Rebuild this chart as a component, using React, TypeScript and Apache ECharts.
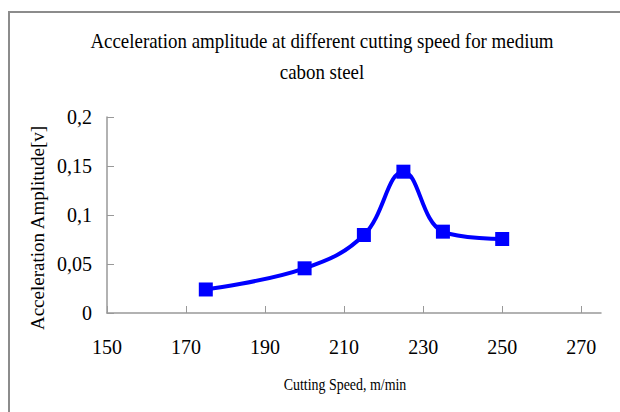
import React, { useEffect, useRef } from "react";
import * as echarts from "echarts";

const titleText = "Acceleration amplitude at different cutting speed for medium\ncabon steel";
const xAxisTitle = "Cutting Speed, m/min";
const yAxisTitle = "Acceleration Amplitude[v]";
const cuttingSpeed = [175, 200, 215, 225, 235, 250];
const amplitude = [0.024, 0.0456, 0.0796, 0.1442, 0.083, 0.0755];
const xTickValues = [150, 170, 190, 210, 230, 250, 270];

const FONT = "'Liberation Serif', 'Times New Roman', serif";

export default function App() {
  const ref = useRef<HTMLDivElement>(null);
  useEffect(() => {
    document.body.style.margin = "0";
    const chart = echarts.init(ref.current!, null, { renderer: "svg" });
    chart.setOption({
      animation: false,
      backgroundColor: "#ffffff",
      grid: { left: 107, right: 19, top: 117, bottom: 99, containLabel: false },
      xAxis: {
        type: "value",
        min: 150,
        max: 275,
        interval: 5,
        axisLine: { show: true, lineStyle: { color: "#999999", width: 1.5 } },
        axisTick: {
          show: true,
          inside: true,
          length: 7,
          customValues: xTickValues,
          lineStyle: { color: "#999999", width: 1 },
        },
        axisLabel: {
          customValues: xTickValues,
          margin: 24,
          fontFamily: FONT,
          fontSize: 20,
          color: "#000",
        },
        splitLine: { show: false },
      },
      yAxis: {
        type: "value",
        min: 0,
        max: 0.2,
        interval: 0.05,
        axisLine: { show: true, lineStyle: { color: "#999999", width: 1.5 } },
        axisTick: { show: true, inside: true, length: 7, lineStyle: { color: "#999999", width: 1 } },
        axisLabel: {
          margin: 15,
          fontFamily: FONT,
          fontSize: 20,
          color: "#000",
          formatter: (v: number) => String(Math.round(v * 100) / 100).replace(".", ","),
        },
        splitLine: { show: false },
      },
      graphic: [
        {
          type: "rect",
          shape: { x: 9, y: 12, width: 700, height: 500 },
          style: { fill: "none", stroke: "#8c8c8c", lineWidth: 2 },
          silent: true,
        },
        {
          type: "text",
          x: 322,
          y: 56,
          scaleX: 0.86,
          style: {
            text: titleText,
            fontFamily: FONT,
            fontSize: 22,
            lineHeight: 31,
            fill: "#000",
            textAlign: "center",
            textVerticalAlign: "middle",
          },
        },
        {
          type: "text",
          x: 37,
          y: 228,
          rotation: Math.PI / 2,
          style: {
            text: yAxisTitle,
            fontFamily: FONT,
            fontSize: 19,
            fill: "#000",
            textAlign: "center",
            textVerticalAlign: "middle",
          },
        },
        {
          type: "text",
          x: 345,
          y: 384,
          scaleX: 0.82,
          style: {
            text: xAxisTitle,
            fontFamily: FONT,
            fontSize: 17,
            fill: "#000",
            textAlign: "center",
            textVerticalAlign: "middle",
          },
        },
      ],
      series: [
        {
          type: "line",
          data: cuttingSpeed.map((x, i) => [x, amplitude[i]]),
          smooth: 0.4,
          symbol: "rect",
          symbolSize: 14,
          lineStyle: { color: "#0000ff", width: 4 },
          itemStyle: { color: "#0000ff" },
        },
      ],
    });
    return () => chart.dispose();
  }, []);
  return <div ref={ref} style={{ width: 620, height: 412 }} />;
}
